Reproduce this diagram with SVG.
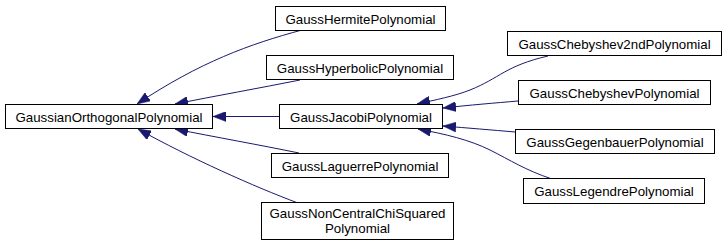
<svg xmlns="http://www.w3.org/2000/svg" width="727" height="247" viewBox="0 0 727 247">
  <style>
    .node rect { fill: #ffffff; stroke: #000000; stroke-width: 1; }
    .node text { font-family: "Liberation Sans", Arial, Helvetica, sans-serif; font-size: 13.3px; fill: #000000; text-anchor: middle; }
    .edge { fill: none; stroke: #191970; stroke-width: 1; marker-end: url(#arrow); }
  </style>
  <defs>
    <marker id="arrow" viewBox="0 0 13 10" refX="13" refY="5" markerWidth="13" markerHeight="10" markerUnits="userSpaceOnUse" orient="auto">
      <path d="M0,0 L13,5 L0,10 z" fill="#191970" stroke="#191970" stroke-width="0.5"/>
    </marker>
  </defs>
  <rect width="727" height="247" fill="#ffffff"/>

  <!-- inheritance edges: derived class to base class -->
  <g id="edges">
    <path class="edge" d="M302,30 C250,44 200,62 137,104"/>
    <path class="edge" d="M300,80 C260,88 215,96 175,104"/>
    <path class="edge" d="M279,116.5 L213,116.5"/>
    <path class="edge" d="M299,153 C260,145 215,137 175,129"/>
    <path class="edge" d="M298,203 C255,187 190,158 138,129"/>
    <path class="edge" d="M548,56 C505,66 500,78 470,90 C455,96 435,100 417,104"/>
    <path class="edge" d="M518,101 C495,103 470,105 443,108"/>
    <path class="edge" d="M515,132 C492,130 468,128 443,126"/>
    <path class="edge" d="M552,179 C525,170 510,160 490,150 C470,140 445,134 418,129"/>
  </g>

  <g id="GaussianOrthogonalPolynomial" class="node">
    <rect x="5.5" y="104.5" width="207" height="24"/>
    <text x="109" y="121.5">GaussianOrthogonalPolynomial</text>
  </g>
  <g id="GaussHermitePolynomial" class="node">
    <rect x="275.5" y="6.5" width="170" height="24"/>
    <text x="360.5" y="23.5">GaussHermitePolynomial</text>
  </g>
  <g id="GaussHyperbolicPolynomial" class="node">
    <rect x="266.5" y="55.5" width="187" height="24"/>
    <text x="360" y="72.5">GaussHyperbolicPolynomial</text>
  </g>
  <g id="GaussJacobiPolynomial" class="node">
    <rect x="279.5" y="104.5" width="163" height="24"/>
    <text x="361" y="121.5">GaussJacobiPolynomial</text>
  </g>
  <g id="GaussLaguerrePolynomial" class="node">
    <rect x="271.5" y="153.5" width="177" height="24"/>
    <text x="360" y="170.5">GaussLaguerrePolynomial</text>
  </g>
  <g id="GaussNonCentralChiSquaredPolynomial" class="node">
    <rect x="261.5" y="202.5" width="192" height="37"/>
    <text x="357.5" y="218">GaussNonCentralChiSquared</text>
    <text x="357.5" y="233">Polynomial</text>
  </g>
  <g id="GaussChebyshev2ndPolynomial" class="node">
    <rect x="507.5" y="31.5" width="214" height="24"/>
    <text x="614.5" y="48.5">GaussChebyshev2ndPolynomial</text>
  </g>
  <g id="GaussChebyshevPolynomial" class="node">
    <rect x="518.5" y="80.5" width="192" height="24"/>
    <text x="614.5" y="97.5">GaussChebyshevPolynomial</text>
  </g>
  <g id="GaussGegenbauerPolynomial" class="node">
    <rect x="515.5" y="129.5" width="199" height="24"/>
    <text x="615" y="146.5">GaussGegenbauerPolynomial</text>
  </g>
  <g id="GaussLegendrePolynomial" class="node">
    <rect x="523.5" y="178.5" width="181" height="25"/>
    <text x="614" y="196">GaussLegendrePolynomial</text>
  </g>
</svg>
